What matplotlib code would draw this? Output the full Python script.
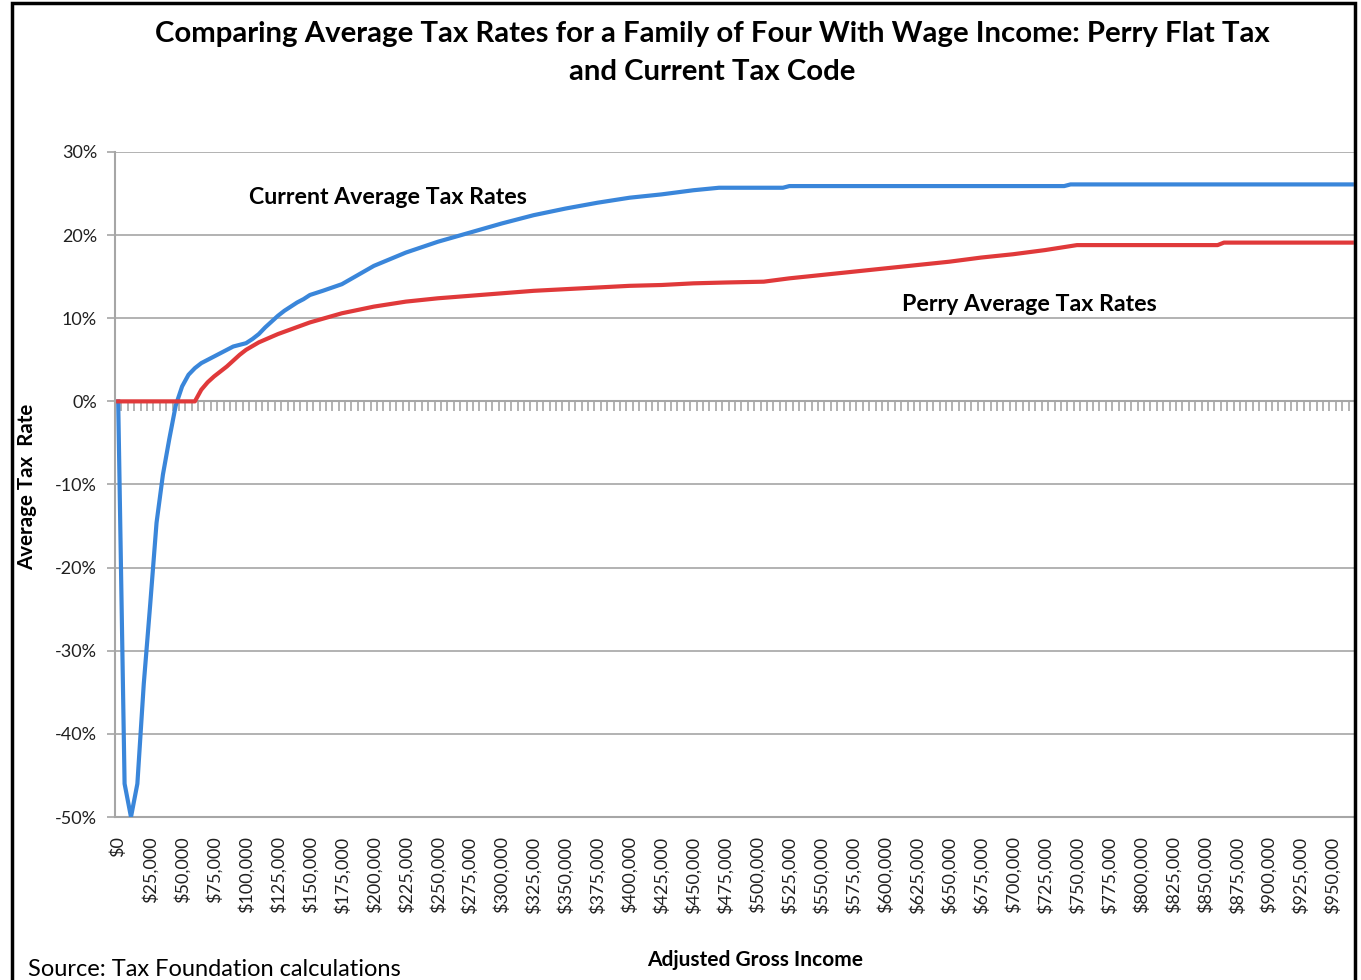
import numpy as np
import matplotlib
matplotlib.use("Agg")
from matplotlib import pyplot as plt
from matplotlib.patches import Rectangle
from matplotlib.ticker import FuncFormatter

plt.rcParams['font.family'] = ['Lato', 'DejaVu Sans']

# data (income in $, rates in %)
income_current = [0, 5000, 10000, 15000, 20000, 25000, 30000, 35000, 40000, 45000,
                  50000, 55000, 60000, 65000, 70000, 75000, 80000, 85000, 90000, 95000,
                  100000, 105000, 110000, 115000, 120000, 125000, 130000, 135000, 140000,
                  145000, 150000, 160000, 175000, 200000, 225000, 250000, 275000, 300000,
                  325000, 350000, 375000, 400000, 425000, 450000, 470000, 520000, 525000,
                  740000, 745000, 965000]
rate_current = [0, -46, -50, -46, -34, -24.5, -14.6, -8.8, -4.5, -0.5,
                1.8, 3.2, 4.0, 4.6, 5.0, 5.4, 5.8, 6.2, 6.6, 6.8,
                7.0, 7.5, 8.1, 8.9, 9.6, 10.3, 10.9, 11.4, 11.9,
                12.3, 12.8, 13.3, 14.1, 16.3, 17.9, 19.2, 20.3, 21.4,
                22.4, 23.2, 23.9, 24.5, 24.9, 25.4, 25.7, 25.7, 25.9,
                25.9, 26.1, 26.1]

income_perry = [0, 60000, 65000, 70000, 75000, 80000, 85000, 90000, 95000, 100000,
                110000, 125000, 150000, 175000, 200000, 225000, 250000, 275000, 300000,
                325000, 350000, 375000, 400000, 425000, 450000, 475000, 505000, 525000,
                550000, 575000, 600000, 625000, 650000, 675000, 700000, 725000, 750000,
                860000, 865000, 965000]
rate_perry = [0, 0, 1.4, 2.3, 3.0, 3.6, 4.2, 4.9, 5.6, 6.2,
              7.1, 8.1, 9.5, 10.6, 11.4, 12.0, 12.4, 12.7, 13.0,
              13.3, 13.5, 13.7, 13.9, 14.0, 14.2, 14.3, 14.4, 14.8,
              15.2, 15.6, 16.0, 16.4, 16.8, 17.3, 17.7, 18.2, 18.8,
              18.8, 19.1, 19.1]

tick_incomes = list(range(0, 950001, 25000))
tick_labels = ['${:,}'.format(v) for v in tick_incomes]
y_ticks = [30, 20, 10, 0, -10, -20, -30, -40, -50]

blue = '#3A86DA'
red = '#E0393A'
grey = '#A6A6A6'

W, H = 1361, 980
fig = plt.figure(figsize=(W / 100, H / 100), dpi=100)
ax = fig.add_axes([115 / W, 1 - 817 / H, (1355 - 115) / W, (817 - 152) / H])

ax.plot(income_current, rate_current, color=blue, lw=3, solid_joinstyle='round', zorder=3)
ax.plot(income_perry, rate_perry, color=red, lw=3, solid_joinstyle='round', zorder=4)

ax.set_xlim(-2500, 967500)
ax.set_ylim(-50, 30)
ax.set_yticks(y_ticks)
ax.yaxis.set_major_formatter(FuncFormatter(lambda v, p: '{:.0f}%'.format(v)))
ax.grid(axis='y', color=grey, lw=1.2)
ax.set_axisbelow(True)

ax.set_xticks(tick_incomes)
ax.set_xticklabels(tick_labels, rotation=90)
ax.tick_params(axis='x', length=0, pad=14, labelsize=13, labelcolor='#202020')
ax.tick_params(axis='y', direction='out', length=6, color=grey, width=1.2,
               pad=7, labelsize=13, labelcolor='#202020')

for s in ['top', 'right']:
    ax.spines[s].set_visible(False)
for s in ['left', 'bottom']:
    ax.spines[s].set_color(grey)
    ax.spines[s].set_linewidth(1.5)

# category tick marks along the zero line
zero_axis = ax.secondary_xaxis(50 / 80)
zero_axis.set_xticks(np.arange(2500, 967500, 5000))
zero_axis.set_xticklabels([])
zero_axis.tick_params(direction='in', length=7, color=grey, width=1.2)
for s in zero_axis.spines.values():
    s.set_color(grey)
    s.set_linewidth(1.5)

ax.text(102000, 24.5, 'Current Average Tax Rates', fontsize=16.7, fontweight='bold',
        ha='left', va='center')
ax.text(613000, 11.7, 'Perry Average Tax Rates', fontsize=16.7, fontweight='bold',
        ha='left', va='center')

fig.text(712 / W, 1 - 53 / H,
         'Comparing Average Tax Rates for a Family of Four With Wage Income: Perry Flat Tax\nand Current Tax Code',
         ha='center', va='center', fontsize=21.2, fontweight='bold', linespacing=1.55)
fig.text(27 / W, 1 - 487 / H, 'Average Tax  Rate', rotation=90, ha='center', va='center',
         fontsize=14.8, fontweight='bold')
fig.text(755 / W, 1 - 960 / H, 'Adjusted Gross Income', ha='center', va='center',
         fontsize=15, fontweight='bold')
fig.text(28 / W, 1 - 969 / H, 'Source: Tax Foundation calculations', ha='left', va='center',
         fontsize=17)

fig.patches.append(Rectangle((12 / W, -0.1), (1355 - 12) / W, 1.1 - 3 / H,
                             transform=fig.transFigure, fill=False, ec='black', lw=2.5))

fig.savefig('out.png', dpi=100)
